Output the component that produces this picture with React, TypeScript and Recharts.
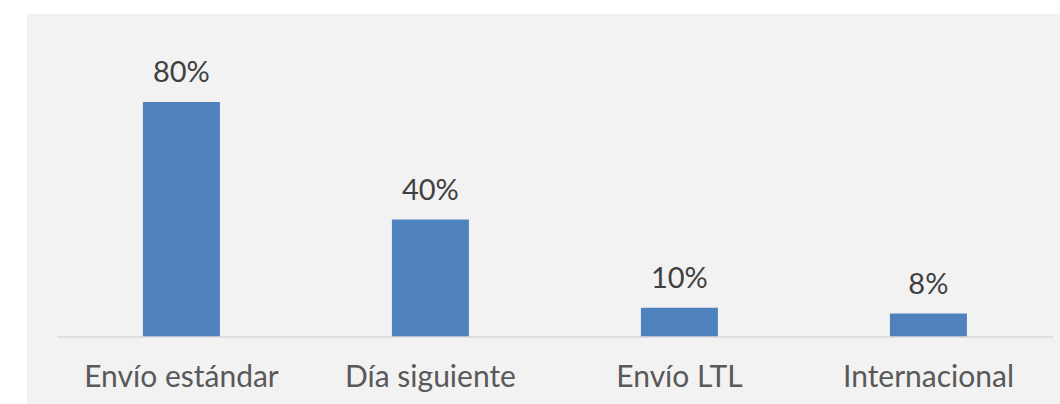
import { Bar, BarChart, LabelList, XAxis, YAxis } from "recharts"

const categories = ["Envío estándar", "Día siguiente", "Envío LTL", "Internacional"]
const shares = [80, 40, 10, 8]

const data = categories.map((name, i) => ({ name, value: shares[i] }))

const fontFamily = "Lato, 'Open Sans', sans-serif"

function CategoryTick(props: any) {
  const { x, y, payload } = props
  return (
    <text x={x} y={y} dy={42} textAnchor="middle" fill="#595959" fontSize={30} fontFamily={fontFamily}>
      {payload.value}
    </text>
  )
}

export default function App() {
  return (
    <div style={{ position: "absolute", left: 0, top: 0, width: 1060, height: 404, background: "#ffffff" }}>
      <div style={{ position: "absolute", left: 27, top: 14, width: 1033, height: 390, background: "#f2f2f2" }}>
        <BarChart
          width={1033}
          height={390}
          data={data}
          barCategoryGap="34.5%"
          margin={{ top: 29.4, right: 7, left: 30, bottom: 0 }}
        >
          <XAxis
            dataKey="name"
            axisLine={{ stroke: "#d9d9d9", strokeWidth: 1.5 }}
            tickLine={false}
            tick={<CategoryTick />}
            interval={0}
            height={67}
          />
          <YAxis hide domain={[0, 100]} />
          <Bar dataKey="value" fill="#4f81bd" isAnimationActive={false}>
            <LabelList
              dataKey="value"
              position="top"
              offset={20}
              formatter={(v: any) => `${v}%`}
              fill="#404040"
              fontSize={29}
              fontFamily={fontFamily}
            />
          </Bar>
        </BarChart>
      </div>
    </div>
  )
}
